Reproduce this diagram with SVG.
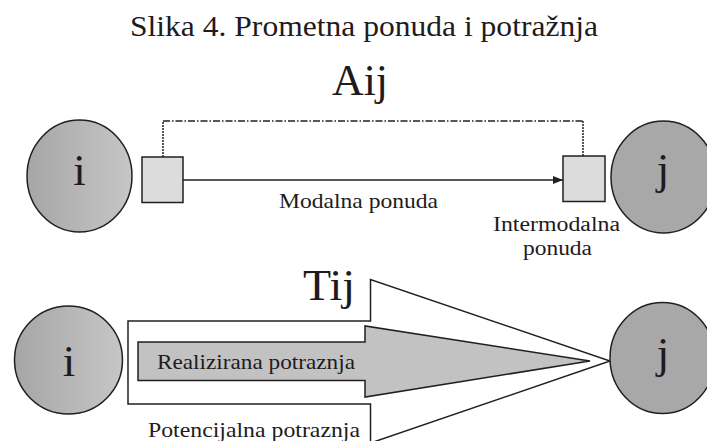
<svg xmlns="http://www.w3.org/2000/svg" width="707" height="441" viewBox="0 0 707 441" font-family="'Liberation Serif', 'Times New Roman', Times, serif">
<style>
  text { font-family: 'Liberation Serif', 'Times New Roman', Times, serif; fill: #1e1b1c; }
  .title { font-size: 29px; }
  .big { font-size: 45px; }
  .lbl { font-size: 22px; }
  .sm { font-size: 20px; }
  .node { stroke: #231f20; stroke-width: 1.5; }
  .box { fill: #dcdcdc; stroke: #231f20; stroke-width: 1.5; }
  .line { fill: none; stroke: #231f20; stroke-width: 1.5; }
</style>
<defs>
  <linearGradient id="gi" x1="0" y1="0" x2="1" y2="0">
    <stop offset="0" stop-color="#a6a6a6"/>
    <stop offset="1" stop-color="#c6c6c6"/>
  </linearGradient>
  <marker id="arr" viewBox="0 0 10 8" refX="10" refY="4" markerWidth="10" markerHeight="8" markerUnits="userSpaceOnUse" orient="auto">
    <path d="M0,0 L10,4 L0,8 Z" fill="#231f20"/>
  </marker>
</defs>
<rect width="707" height="441" fill="#ffffff"/>
<text class="title" x="130" y="36" textLength="468" lengthAdjust="spacingAndGlyphs">Slika 4. Prometna ponuda i potražnja</text>

<g id="connectors">
  <path class="line" d="M163,157 V121" stroke-dasharray="2,1" stroke-width="1.3"/>
  <path class="line" d="M163,121 H583" stroke-dasharray="7,2,1.5,2" stroke-width="1.3"/>
  <path class="line" d="M583,121 V156" stroke-dasharray="2,1" stroke-width="1.3"/>
  <path class="line" d="M183,180 H563" stroke-width="1.2" marker-end="url(#arr)"/>
</g>

<g id="label-aij"><text class="big" x="332" y="95" textLength="56" lengthAdjust="spacingAndGlyphs">Aij</text></g>

<g id="node-i-top">
  <ellipse class="node" cx="79.5" cy="176" rx="52.5" ry="56" fill="url(#gi)"/>
  <text class="big" x="79.5" y="185" text-anchor="middle">i</text>
</g>
<g id="node-sq-left"><rect class="box" x="142" y="157" width="41" height="45.5"/></g>
<g id="node-sq-right"><rect class="box" x="563" y="156" width="42" height="45.5"/></g>
<g id="node-j-top">
  <ellipse class="node" cx="663.5" cy="177" rx="52.5" ry="56" fill="#a8a8a8"/>
  <text class="big" x="663" y="184" text-anchor="middle">j</text>
</g>
<g id="label-modalna"><text class="lbl" x="279" y="208" textLength="159" lengthAdjust="spacingAndGlyphs">Modalna ponuda</text></g>
<g id="label-intermodalna">
  <text class="sm" x="493" y="231" textLength="127" lengthAdjust="spacingAndGlyphs">Intermodalna</text>
  <text class="sm" x="523" y="255" textLength="69" lengthAdjust="spacingAndGlyphs">ponuda</text>
</g>

<g id="node-i-bottom">
  <ellipse class="node" cx="68.5" cy="360" rx="54" ry="54" fill="url(#gi)"/>
  <text class="big" x="69" y="376" text-anchor="middle">i</text>
</g>
<g id="node-potencijalna">
  <path class="node" fill="#ffffff" d="M128,321 H370.5 V279.5 L610,361 L370.5,443 V404 H128 Z"/>
  <text class="lbl" x="148" y="437" textLength="212" lengthAdjust="spacingAndGlyphs">Potencijalna potraznja</text>
</g>
<g id="node-realizirana">
  <path class="node" fill="#c2c2c2" d="M138,342 H365 V326 L590,361 L365,397 V380.5 H138 Z"/>
  <text class="lbl" x="157" y="369" textLength="198" lengthAdjust="spacingAndGlyphs">Realizirana potraznja</text>
</g>
<g id="label-tij"><text class="big" x="303" y="300" textLength="52" lengthAdjust="spacingAndGlyphs">Tij</text></g>
<g id="node-j-bottom">
  <ellipse class="node" cx="662.5" cy="358" rx="52.5" ry="55.5" fill="#a8a8a8"/>
  <text class="big" x="663" y="368" text-anchor="middle">j</text>
</g>
</svg>
